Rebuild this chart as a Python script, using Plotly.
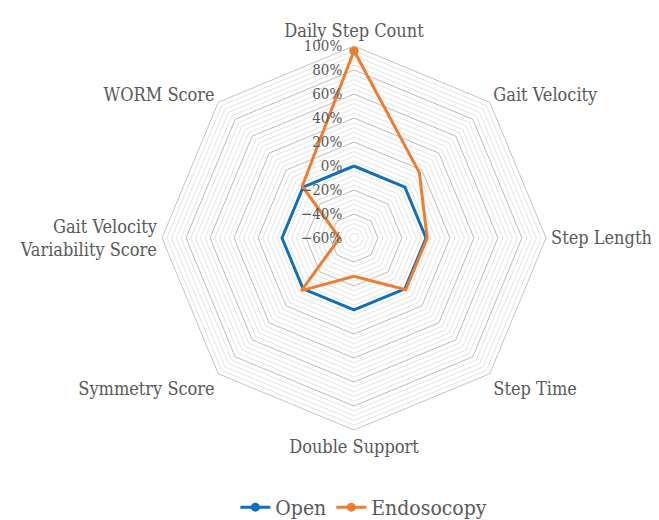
import plotly.graph_objects as go

categories = ["Daily Step Count", "Gait Velocity", "Step Length", "Step Time",
              "Double Support", "Symmetry Score", "Gait Velocity<br>Variability Score", "WORM Score"]
open_vals = [0.00, 0.00, 0.00, 0.00, 0.00, 0.00, 0.00, 0.00]
endo_vals = [0.96, 0.17, 0.01, 0.01, -0.28, 0.02, -0.48, 0.01]
series_names = ["Open", "Endosocopy"]
colors = ["#0E6FBE", "#ED7D31"]

r_min, r_max = -0.6, 1.0
font_family = "DejaVu Serif Condensed"
text_color = "#595959"

cx, cy, rad = 346, 230, 192
W, H = 659, 520
dom_x = [(cx - rad) / W, (cx + rad) / W]
dom_y = [1 - (cy + rad) / H, 1 - (cy - rad) / H]

fig = go.Figure()

# invisible trace to create the minor-grid polar
fig.add_trace(go.Scatterpolar(r=[r_min], theta=[categories[0]], mode="markers",
                              marker=dict(opacity=0), hoverinfo="skip",
                              showlegend=False, subplot="polar"))

cl = lambda v: list(v) + [v[0]]
ct = categories + [categories[0]]
for name, vals, col in zip(series_names, [open_vals, endo_vals], colors):
    fig.add_trace(go.Scatterpolar(r=cl(vals), theta=ct, mode="lines+markers", name=name,
                                  line=dict(color=col, width=3),
                                  marker=dict(color=col, size=9),
                                  subplot="polar2"))

common_ang = dict(categoryarray=categories, categoryorder="array", rotation=90,
                  direction="clockwise")

fig.update_layout(
    width=W, height=H, autosize=False,
    paper_bgcolor="white", plot_bgcolor="white",
    margin=dict(l=0, r=0, t=0, b=0),
    font=dict(family=font_family, color=text_color),
    polar=dict(
        domain=dict(x=dom_x, y=dom_y),
        gridshape="linear", bgcolor="rgba(0,0,0,0)",
        radialaxis=dict(range=[r_min, r_max], tick0=r_min, dtick=0.04,
                        showticklabels=False, showline=False, ticks="",
                        gridcolor="#E3E3E3", gridwidth=1),
        angularaxis=dict(showgrid=False, showline=False, showticklabels=False,
                         ticks="", **common_ang),
    ),
    polar2=dict(
        domain=dict(x=dom_x, y=dom_y),
        gridshape="linear", bgcolor="rgba(0,0,0,0)",
        radialaxis=dict(range=[r_min, r_max], tick0=r_min, dtick=0.2,
                        tickformat=".0%", angle=90, tickangle=90,
                        side="counterclockwise",
                        showline=False, ticks="outside", ticklen=6,
                        tickcolor="rgba(0,0,0,0)",
                        gridcolor="#C4C4C4", gridwidth=1,
                        tickfont=dict(size=15, color=text_color, family=font_family)),
        angularaxis=dict(showgrid=False, showline=True, linecolor="#C4C4C4", linewidth=1,
                         ticks="outside", ticklen=1, tickcolor="rgba(0,0,0,0)",
                         tickfont=dict(size=18, color=text_color, family=font_family),
                         **common_ang),
    ),
    legend=dict(orientation="h", x=0.54, xanchor="center", y=0.0, yanchor="bottom",
                font=dict(size=21, color=text_color, family=font_family)),
)

fig.write_html("out.html")
